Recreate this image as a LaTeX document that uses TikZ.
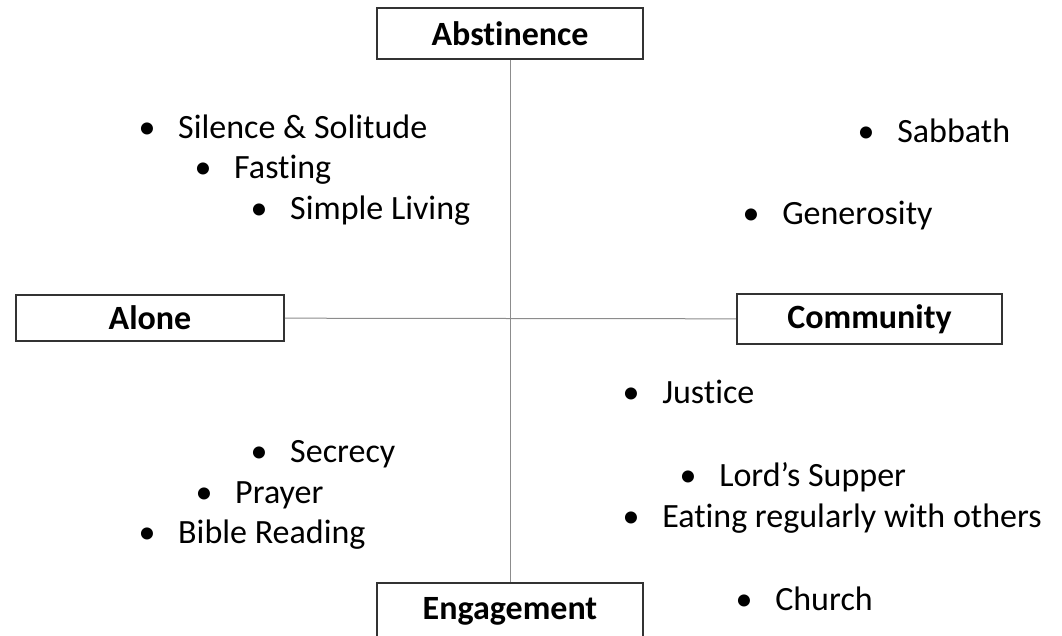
\documentclass[tikz,border=0pt]{standalone}
\usepackage{fontspec}
\setmainfont{Carlito}[Ligatures={NoCommon,NoRare,NoContextual}]
\usetikzlibrary{positioning}

\newcommand{\bul}{\llap{\textbullet\hspace{17pt}}}

\begin{document}
\begin{tikzpicture}[x=0.75pt,y=-0.75pt,font=\fontsize{25.5}{30}\selectfont,
  axis/.style={draw=black!45,line width=0.75pt},
  pole/.style={draw=black!80,line width=1.3pt,inner sep=0pt,
    font=\fontsize{25.5}{30}\selectfont\bfseries},
  item/.style={anchor=base west,inner sep=0pt}]

\useasboundingbox (0,0) rectangle (1062,635);
\clip (0,0) rectangle (1062,635);

% the four poles
\node[pole,minimum width=200pt,minimum height=38pt] (abst) at (510,33.5) {Abstinence};
\node[pole,minimum width=201pt,minimum height=34pt] (alone) at (150,318) {Alone};
\node[pole,minimum width=199pt,minimum height=37.5pt] (comm) at (869.5,319) {Community};
\node[pole,minimum width=200pt,minimum height=42pt] (engage) at (510,611) {Engagement};

% axes
\draw[axis] (abst) -- (engage);
\draw[axis] (alone) -- (comm);

% alone + abstinence
\node[item] (sil) at (178,138) {\bul Silence \& Solitude};
\node[item] (fast) at (234,178) {\bul Fasting};
\node[item] (simp) at (290,219) {\bul Simple Living};

% community + abstinence
\node[item] (sab) at (897,142) {\bul Sabbath};
\node[item] (gen) at (782,224) {\bul Generosity};

% alone + engagement
\node[item] (secr) at (290,462) {\bul Secrecy};
\node[item] (pray) at (235,503) {\bul Prayer};
\node[item] (bible) at (178,543) {\bul Bible Reading};

% community + engagement
\node[item] (just) at (662,403) {\bul Justice};
\node[item] (lord) at (719,486) {\bul Lord’s Supper};
\node[item] (eat) at (662,527) {\bul Eating regularly with others};
\node[item] (church) at (775,610) {\bul Church};
\end{tikzpicture}
\end{document}
